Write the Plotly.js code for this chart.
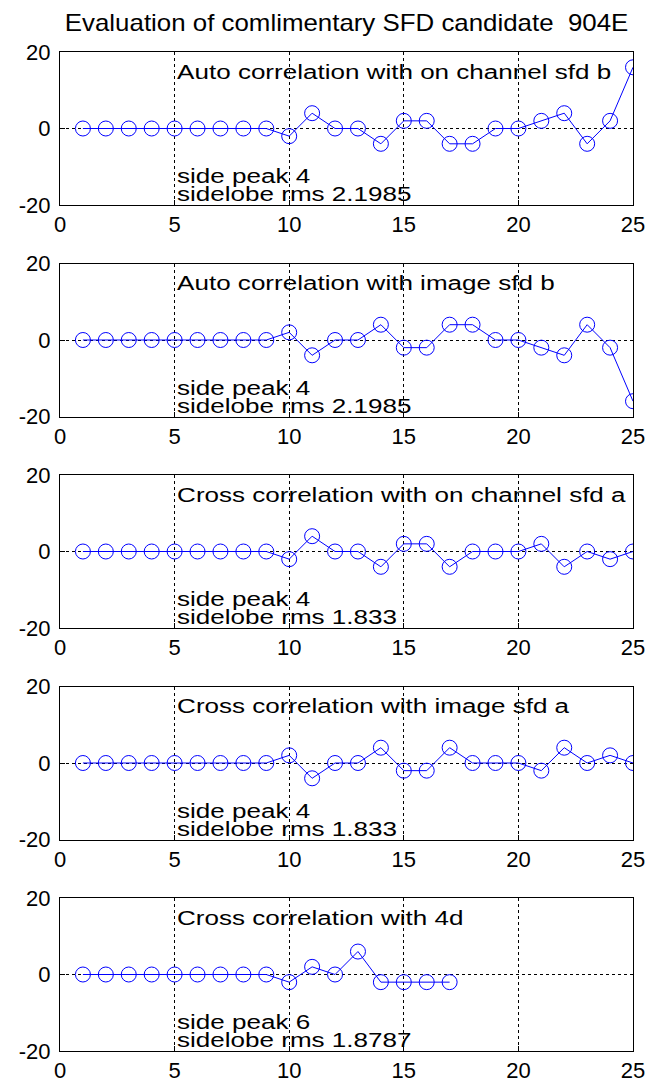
<!DOCTYPE html>
<html>
<head>
<meta charset="utf-8">
<script src="https://cdn.plot.ly/plotly-3.0.1.min.js"></script>
<style>html,body{margin:0;padding:0;background:#fff;}#chart{width:651px;height:1086px;}</style>
</head>
<body>
<div id="chart"></div>
<script>
const chartTitle = "Evaluation of comlimentary SFD candidate  904E";
const lagsFull = [1,2,3,4,5,6,7,8,9,10,11,12,13,14,15,16,17,18,19,20,21,22,23,24,25];
const lags4d = [1,2,3,4,5,6,7,8,9,10,11,12,13,14,15,16,17];
const autoOnB    = [0,0,0,0,0,0,0,0,0,-2,4,0,0,-4,2,2,-4,-4,0,0,2,4,-4,2,16];
const autoImageB = [0,0,0,0,0,0,0,0,0,2,-4,0,0,4,-2,-2,4,4,0,0,-2,-4,4,-2,-16];
const crossOnA   = [0,0,0,0,0,0,0,0,0,-2,4,0,0,-4,2,2,-4,0,0,0,2,-4,0,-2,0];
const crossImageA= [0,0,0,0,0,0,0,0,0,2,-4,0,0,4,-2,-2,4,0,0,0,-2,4,0,2,0];
const cross4d    = [0,0,0,0,0,0,0,0,0,-2,2,0,6,-2,-2,-2,-2];
const panelLabels = ["Auto correlation with on channel sfd b","Auto correlation with image sfd b",
  "Cross correlation with on channel sfd a","Cross correlation with image sfd a","Cross correlation with 4d"];
const sidePeaks = ["side peak 4","side peak 4","side peak 4","side peak 4","side peak 6"];
const sidelobeRms = ["sidelobe rms 2.1985","sidelobe rms 2.1985","sidelobe rms 1.833","sidelobe rms 1.833","sidelobe rms 1.8787"];
const xTicks = [0,5,10,15,20,25];
const yTicks = [-20,0,20];

const xs = [lagsFull,lagsFull,lagsFull,lagsFull,lags4d];
const ys = [autoOnB,autoImageB,crossOnA,crossImageA,cross4d];

const W = 651, H = 1086;
const left = 60, right = 633;
const tops = [52, 263.5, 475, 686.5, 898];
const ph = 153;
const font = "Liberation Sans, Arial, sans-serif";
const TITLE_STRETCH = 1.125, TEXT_STRETCH = 1.24;

const traces = [];
const stretch = [];
const layout = {
  width: W, height: H,
  margin: {l:0, r:0, t:0, b:0},
  paper_bgcolor: "#fff", plot_bgcolor: "#fff",
  showlegend: false,
  font: {family: font, size: 22, color: "#000"},
  annotations: [
    {text: chartTitle, xref: "paper", yref: "paper", x: (left+right)/2/W, y: 1 - 23/H,
     xanchor: "center", yanchor: "middle", showarrow: false, font: {family: font, size: 23, color: "#000"}}
  ]
};
stretch.push({s: TITLE_STRETCH, anchor: "center"});

for (let i = 0; i < 5; i++) {
  const s = i === 0 ? "" : String(i+1);
  traces.push({
    x: xs[i], y: ys[i], xaxis: "x"+s, yaxis: "y"+s,
    type: "scatter", mode: "lines+markers",
    line: {color: "#0000ff", width: 1},
    marker: {symbol: "circle-open", size: 15, color: "#0000ff", line: {width: 1, color: "#0000ff"}},
    hoverinfo: "skip"
  });
  const axBase = {
    showline: true, mirror: true, linecolor: "#000", linewidth: 1,
    ticks: "inside", ticklen: 5, tickcolor: "#000",
    showgrid: true, gridcolor: "#000", griddash: "dot", gridwidth: 1,
    zeroline: false, tickfont: {family: font, size: 22, color: "#000"}
  };
  layout["xaxis"+s] = Object.assign({}, axBase, {
    domain: [left/W, right/W], anchor: "y"+s, range: [0,25],
    tickmode: "array", tickvals: xTicks, ticktext: xTicks.map(String), ticklabelstandoff: 0
  });
  layout["yaxis"+s] = Object.assign({}, axBase, {
    domain: [1 - (tops[i]+ph)/H, 1 - tops[i]/H], anchor: "x"+s, range: [-20,20],
    tickmode: "array", tickvals: yTicks, ticktext: yTicks.map(String), ticklabelstandoff: 4
  });
  layout.annotations.push(
    {text: panelLabels[i], xref: "x"+s, yref: "y"+s, x: 5, y: 15, xanchor: "left", yanchor: "middle", showarrow: false,
     font: {family: font, size: 21, color: "#000"}},
    {text: sidePeaks[i], xref: "x"+s, yref: "y"+s, x: 5, y: -12.4, xanchor: "left", yanchor: "middle", showarrow: false,
     font: {family: font, size: 21, color: "#000"}},
    {text: sidelobeRms[i], xref: "x"+s, yref: "y"+s, x: 5, y: -17.1, xanchor: "left", yanchor: "middle", showarrow: false,
     font: {family: font, size: 21, color: "#000"}}
  );
  stretch.push({s: TEXT_STRETCH, anchor: "left"}, {s: TEXT_STRETCH, anchor: "left"}, {s: TEXT_STRETCH, anchor: "left"});
}

Plotly.newPlot("chart", traces, layout, {displayModeBar: false, staticPlot: true}).then(function () {
  document.querySelectorAll("#chart g.annotation").forEach(function (g) {
    const idx = +g.getAttribute("data-index");
    const st = stretch[idx];
    const t = g.querySelector("text.annotation-text");
    if (!st || !t) return;
    const bb = t.getBBox();
    const cx = st.anchor === "left" ? bb.x : bb.x + bb.width / 2;
    t.setAttribute("transform", "translate(" + cx + ",0) scale(" + st.s + ",1) translate(" + (-cx) + ",0)");
  });
});
</script>
</body>
</html>
